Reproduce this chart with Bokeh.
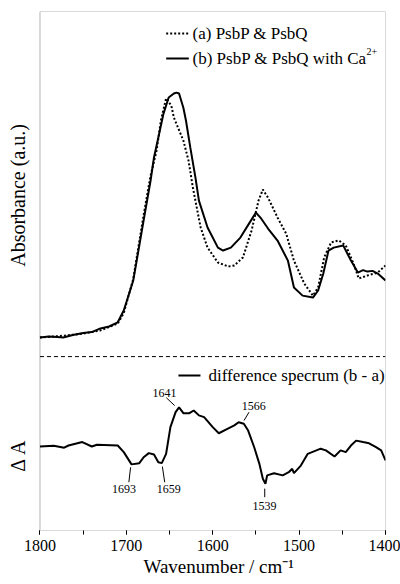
import numpy as np
from bokeh.plotting import figure
from bokeh.models import Range1d, Label, SingleIntervalTicker, BoxAnnotation, Title
from bokeh.embed import file_html
from bokeh.resources import INLINE

# ---- data ----
# (a) PsbP & PsbQ  (dotted), normalised absorbance
wn_a = [1800, 1785, 1770, 1750, 1730, 1710, 1703, 1692, 1680, 1672, 1665, 1660, 1654,
        1648, 1645, 1634, 1628, 1623, 1614, 1606, 1594, 1582, 1575, 1565, 1555, 1547,
        1542, 1536, 1525, 1515, 1506, 1494, 1484, 1478, 1471, 1463, 1454, 1446, 1437,
        1431, 1421, 1409, 1400]
abs_a = [0.000, 0.004, 0.008, 0.016, 0.029, 0.057, 0.100, 0.240, 0.500, 0.660, 0.763,
         0.886, 0.976, 0.947, 0.898, 0.804, 0.722, 0.612, 0.449, 0.367, 0.306, 0.290,
         0.294, 0.327, 0.437, 0.559, 0.604, 0.571, 0.490, 0.424, 0.314, 0.220, 0.171,
         0.204, 0.327, 0.388, 0.396, 0.376, 0.302, 0.241, 0.253, 0.265, 0.294]

# (b) PsbP & PsbQ with Ca2+ (solid), normalised absorbance
wn_b = [1800, 1790, 1780, 1773, 1762, 1750, 1740, 1730, 1720, 1710, 1703, 1692, 1680,
        1672, 1668, 1657, 1651, 1645, 1642, 1639, 1634, 1631, 1626, 1620, 1616, 1606,
        1594, 1588, 1579, 1568, 1558, 1550, 1544, 1536, 1525, 1513, 1506, 1496, 1484,
        1478, 1472, 1466, 1460, 1449, 1440, 1432, 1426, 1421, 1415, 1409, 1400]
abs_b = [0.000, 0.004, 0.002, 0.000, 0.010, 0.018, 0.022, 0.037, 0.045, 0.062, 0.110,
         0.233, 0.478, 0.640, 0.735, 0.914, 0.980, 0.996, 1.000, 0.996, 0.938, 0.886,
         0.776, 0.653, 0.559, 0.449, 0.367, 0.355, 0.367, 0.408, 0.465, 0.510, 0.486,
         0.445, 0.396, 0.314, 0.204, 0.171, 0.163, 0.192, 0.261, 0.355, 0.367, 0.376,
         0.314, 0.265, 0.275, 0.269, 0.272, 0.261, 0.233]

# difference spectrum (b - a)
wn_d = [1800, 1784, 1772, 1767, 1751, 1740, 1734, 1710, 1703, 1694, 1685, 1680, 1674,
        1668, 1663, 1659, 1654, 1649, 1643, 1639, 1634, 1627, 1622, 1616, 1610, 1600,
        1593, 1583, 1575, 1570, 1564, 1559, 1552, 1546, 1542, 1539, 1537, 1529, 1519,
        1512, 1508, 1506, 1498, 1490, 1475, 1469, 1459, 1452, 1446, 1440, 1434, 1426,
        1419, 1411, 1405, 1400]
delta_d = [0.000, 0.003, -0.005, 0.004, 0.018, 0.000, 0.007, 0.004, -0.023, -0.073,
           -0.068, -0.044, -0.027, -0.033, -0.064, -0.068, -0.030, 0.079, 0.140, 0.160,
           0.136, 0.136, 0.147, 0.127, 0.120, 0.079, 0.054, 0.072, 0.086, 0.099, 0.093,
           0.065, -0.003, -0.071, -0.132, -0.152, -0.118, -0.109, -0.118, -0.105, -0.091,
           -0.109, -0.078, -0.030, -0.009, -0.016, -0.041, -0.016, -0.023, 0.004, 0.024,
           0.018, 0.013, -0.003, -0.016, -0.057]

peak_labels = ["1693", "1659", "1641", "1566", "1539"]
ann_x = [1702.7, 1651.0, 1655.7, 1552.5, 1540.1]
ann_y = [-0.617, -0.617, -0.225, -0.278, -0.686]
lead_x0 = [1695.1, 1658.3, 1653.7, 1558.0, 1539.8]
lead_y0 = [-0.530, -0.527, -0.246, -0.305, -0.617]
lead_x1 = [1697.1, 1655.6, 1644.1, 1563.8, 1539.8]
lead_y1 = [-0.591, -0.591, -0.278, -0.339, -0.652]

X_MAX, X_MIN = 1800, 1400
Y_MIN, Y_MAX = -0.788, 1.331
DIFF_OFFSET = -0.445
SEP_Y = -0.078
SERIF = "Liberation Serif"

# the frame reaches the left edge so that the rotated y titles can live in it;
# the visible plot box (1800..1400) is drawn as a BoxAnnotation
p = figure(width=400, height=584, x_range=Range1d(1845.7, X_MIN),
           y_range=Range1d(Y_MIN, Y_MAX), output_backend="svg",
           toolbar_location=None, min_border_left=0, min_border_right=15,
           min_border_top=11, min_border_bottom=54)
p.background_fill_color = "white"
p.border_fill_color = "white"
p.outline_line_color = None
p.xgrid.visible = False
p.ygrid.visible = False
p.yaxis.visible = False

p.add_layout(BoxAnnotation(left=X_MIN, right=X_MAX, bottom=Y_MIN, top=Y_MAX,
                           fill_alpha=0, line_color="black", line_width=1))

ax = p.xaxis[0]
ax.ticker = SingleIntervalTicker(interval=100, num_minor_ticks=2)
ax.major_tick_out = 4
ax.major_tick_in = 0
ax.minor_tick_out = 4
ax.minor_tick_in = 0
ax.major_tick_line_color = "black"
ax.minor_tick_line_color = "black"
ax.axis_line_color = None
ax.major_label_text_font = SERIF
ax.major_label_text_font_size = "16px"
ax.major_label_text_color = "black"
ax.major_label_standoff = 5

p.add_layout(Title(text="Wavenumber / cm\u207b\u00b9", align="left", offset=143,
                   text_font=SERIF, text_font_size="19px", text_font_style="normal",
                   text_color="black", standoff=0), "below")

# spectra
p.line(wn_b, abs_b, line_color="black", line_width=2)
p.line(wn_a, abs_a, line_color="black", line_width=2, line_dash="2 2")
p.line(wn_d, np.array(delta_d) + DIFF_OFFSET, line_color="black", line_width=2)

# dashed separator across the box
p.line([X_MAX, X_MIN], [SEP_Y, SEP_Y], line_color="black", line_width=1, line_dash="4 3")

# legends (drawn manually)
p.line([1653.9, 1627.7], [1.241, 1.241], line_color="black", line_width=2, line_dash="2 2")
p.line([1653.9, 1627.7], [1.139, 1.139], line_color="black", line_width=2)
p.line([1639.7, 1614.2], [-0.155, -0.155], line_color="black", line_width=2)

def lab(x, y, t, size, align="left", base="middle", angle=0.0):
    p.add_layout(Label(x=x, y=y, text=t, text_font=SERIF, text_font_size=size,
                       text_align=align, text_baseline=base, angle=angle,
                       text_color="black"))

lab(1623.4, 1.241, "(a) PsbP & PsbQ", "17px")
lab(1623.4, 1.139, "(b) PsbP & PsbQ with Ca", "17px")
lab(1422.0, 1.167, "2+", "10px")
lab(1604.9, -0.155, "difference specrum (b - a)", "17px")

# peak annotations
for t, x, y in zip(peak_labels, ann_x, ann_y):
    lab(x, y, t, "12px", align="center")
p.segment(lead_x0, lead_y0, lead_x1, lead_y1, line_color="black", line_width=1)

# y titles
lab(1824.9, 0.580, "Absorbance (a.u.)", "20px", align="center", angle=np.pi / 2)
lab(1824.9, -0.482, "\u0394 A", "20px", align="center", angle=np.pi / 2)

open("out.html", "w").write(file_html(p, INLINE))
